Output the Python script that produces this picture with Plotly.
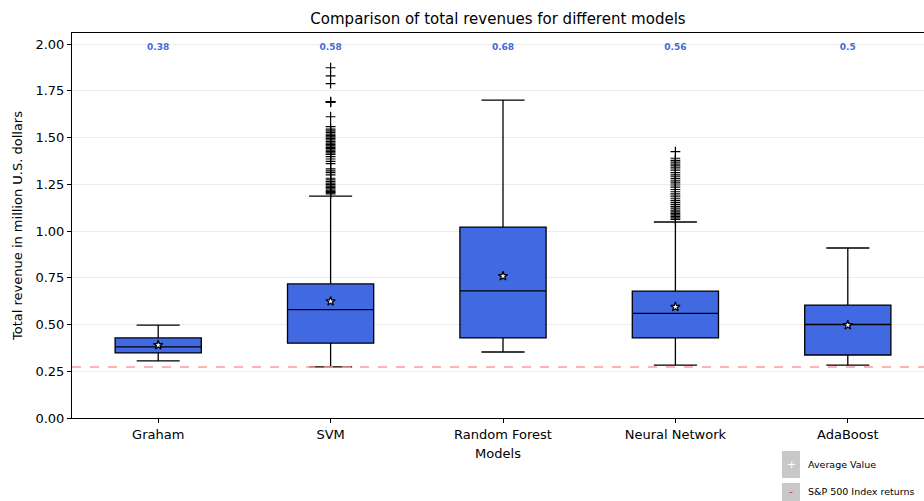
import plotly.graph_objects as go

models = ["Graham", "SVM", "Random Forest", "Neural Network", "AdaBoost"]
q1 = [0.348, 0.400, 0.428, 0.428, 0.337]
median = [0.38, 0.58, 0.68, 0.56, 0.50]
q3 = [0.428, 0.717, 1.021, 0.679, 0.604]
lower_whisker = [0.305, 0.273, 0.353, 0.283, 0.283]
upper_whisker = [0.497, 1.187, 1.700, 1.048, 0.909]
mean = [0.390, 0.624, 0.759, 0.594, 0.497]

svm_outliers = [1.873, 1.830, 1.788, 1.692, 1.690, 1.688, 1.611,
                1.558, 1.545, 1.535, 1.527, 1.518, 1.510, 1.503, 1.495,
                1.487, 1.478, 1.470, 1.462, 1.455, 1.447, 1.440, 1.432,
                1.425, 1.418, 1.410, 1.398, 1.385, 1.372, 1.360, 1.332,
                1.322, 1.312, 1.300, 1.282, 1.274, 1.265, 1.256, 1.248,
                1.240, 1.233, 1.226, 1.219, 1.212, 1.205, 1.198]
nn_outliers = [1.424, 1.389, 1.378, 1.368, 1.358, 1.348, 1.338, 1.325,
               1.312, 1.300, 1.290, 1.280, 1.268, 1.257, 1.246, 1.235,
               1.222, 1.210, 1.198, 1.186, 1.175, 1.164, 1.153, 1.142,
               1.132, 1.122, 1.112, 1.102, 1.094, 1.086, 1.078, 1.070, 1.062]

sp500_return = 0.273

fig = go.Figure()

fig.add_trace(go.Box(
    x=models, q1=q1, median=median, q3=q3,
    lowerfence=lower_whisker, upperfence=upper_whisker,
    width=0.5, whiskerwidth=0.5,
    fillcolor="#4169E1", line=dict(color="black", width=1.3),
    boxpoints=False, showlegend=False, hoverinfo="skip",
))

# outlier points drawn as thin crosses
fig.add_trace(go.Scatter(
    x=["SVM"] * len(svm_outliers) + ["Neural Network"] * len(nn_outliers),
    y=svm_outliers + nn_outliers,
    mode="markers",
    marker=dict(symbol="cross-thin", size=7, line=dict(color="black", width=1.2)),
    showlegend=False, hoverinfo="skip",
))

# mean markers
fig.add_trace(go.Scatter(
    x=models, y=mean, mode="markers",
    marker=dict(symbol="star", size=7, color="white", line=dict(color="black", width=1.2)),
    showlegend=False, hoverinfo="skip",
))

# median value labels along the top
fig.add_trace(go.Scatter(
    x=models, y=[1.98] * len(models), mode="text",
    text=[f"<b>{v:g}</b>" for v in median],
    textfont=dict(family="DejaVu Sans", size=9, color="#4169E1"),
    showlegend=False, hoverinfo="skip",
))

# S&P 500 reference line
fig.add_shape(type="line", xref="paper", x0=0, x1=1, yref="y", y0=sp500_return, y1=sp500_return,
              line=dict(color="#ff9999", width=1.6, dash="dash"), layer="above")

# legend blocks below the axes
legend_items = [("+", "white", "Average Value", -0.0857, -0.1558),
                ("-", "#e03030", "S&P 500 Index returns", -0.1688, -0.2156)]
for sym, symcolor, label, ytop, ybot in legend_items:
    fig.add_shape(type="rect", xref="paper", yref="paper",
                  x0=0.8333, x1=0.8545, y0=ybot, y1=ytop,
                  fillcolor="#c8c8c8", line=dict(width=0))
    fig.add_annotation(xref="paper", yref="paper", x=0.8439, y=(ytop + ybot) / 2,
                       text=sym, showarrow=False, xanchor="center", yanchor="middle",
                       font=dict(family="DejaVu Sans", size=11, color=symcolor))
    fig.add_annotation(xref="paper", yref="paper", x=0.861, y=(ytop + ybot) / 2,
                       text=label, showarrow=False, xanchor="left", yanchor="middle",
                       font=dict(family="DejaVu Sans", size=9.5, color="black"))

fig.update_layout(
    width=924, height=501,
    margin=dict(l=72, r=0, t=33, b=83),
    paper_bgcolor="white", plot_bgcolor="white",
    font=dict(family="DejaVu Sans", color="black"),
    title=dict(text="Comparison of total revenues for different models",
               x=0.5, xref="paper", y=0.963, yanchor="middle",
               font=dict(size=15)),
    xaxis=dict(
        type="category", range=[-0.5, 4.442],
        showline=True, linecolor="black", linewidth=1, mirror=True,
        ticks="outside", ticklen=4, tickcolor="black",
        tickfont=dict(size=13),
        title=dict(text="Models", font=dict(size=13), standoff=8),
        showgrid=False, zeroline=False,
    ),
    yaxis=dict(
        range=[0, 2.0588],
        tickvals=[0, 0.25, 0.5, 0.75, 1.0, 1.25, 1.5, 1.75, 2.0],
        ticktext=["0.00", "0.25", "0.50", "0.75", "1.00", "1.25", "1.50", "1.75", "2.00"],
        showline=True, linecolor="black", linewidth=1,
        ticks="outside", ticklen=4, tickcolor="black",
        tickfont=dict(size=13),
        showgrid=True, gridcolor="#ebebeb", gridwidth=1,
        zeroline=False,
        title=dict(text="Total revenue in million U.S. dollars", font=dict(size=13), standoff=9),
    ),
)

fig.write_html("out.html")
